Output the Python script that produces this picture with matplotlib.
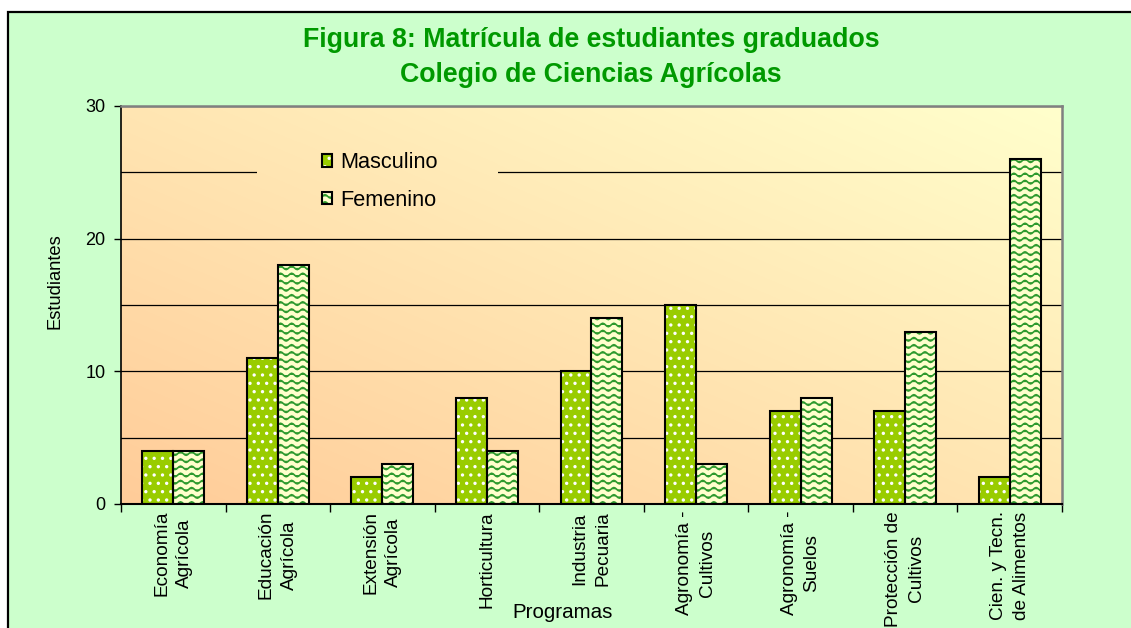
import numpy as np
import matplotlib
matplotlib.use("Agg")
import matplotlib.pyplot as plt
import matplotlib.hatch as mhatch
from matplotlib.path import Path
from matplotlib.patches import Rectangle
from matplotlib.legend_handler import HandlerTuple
from matplotlib.ticker import MultipleLocator

# ---------------- data ----------------
programas = ["Economía\nAgrícola", "Educación\nAgrícola", "Extensión\nAgrícola",
             "Horticultura", "Industria\nPecuaria", "Agronomía -\nCultivos",
             "Agronomía -\nSuelos", "Protección de\nCultivos",
             "Cien. y Tecn.\nde Alimentos"]
masculino = [4, 11, 2, 8, 10, 15, 7, 7, 2]
femenino = [4, 18, 3, 4, 14, 3, 8, 13, 26]
series_names = ["Masculino", "Femenino"]
titulo = "Figura 8: Matrícula de estudiantes graduados"
subtitulo = "Colegio de Ciencias Agrícolas"
ylabel = "Estudiantes"
xlabel = "Programas"
yticks = [0, 10, 20, 30]

# ---------------- custom wavy hatch ----------------
class WaveHatch(mhatch.HatchPatternBase):
    def __init__(self, hatch, density):
        self.num_lines = int(hatch.count('~') * 7)
        self.nper = 9
        self.pts = self.nper * 8 + 1
        self.num_vertices = self.num_lines * self.pts

    def set_vertices_and_codes(self, vertices, codes):
        if self.num_lines == 0:
            return
        xs = np.linspace(0, 1, self.pts)
        amp = 0.24 / self.num_lines
        for i in range(self.num_lines):
            y0 = (i + 0.5) / self.num_lines
            ys = y0 + amp * np.sin(2 * np.pi * self.nper * xs)
            s = slice(i * self.pts, (i + 1) * self.pts)
            vertices[s, 0] = xs
            vertices[s, 1] = ys
            codes[s] = Path.LINETO
            codes[i * self.pts] = Path.MOVETO

mhatch._hatch_types.append(WaveHatch)
mhatch._validate_hatch_pattern = lambda h: None

plt.rcParams['font.family'] = ['Liberation Sans', 'DejaVu Sans']
plt.rcParams['hatch.linewidth'] = 1.2

W, H = 1131, 628
fig = plt.figure(figsize=(W / 100, H / 100), dpi=100, facecolor='white')

# green chart-area frame
fig.add_artist(Rectangle((8 / W, -0.05), 1.2, (1 - 12 / H) + 0.05,
                         transform=fig.transFigure, facecolor='#CCFFCC',
                         edgecolor='black', lw=1.6, zorder=-5))

ax = fig.add_axes([121 / W, 1 - 504 / H, (1062 - 121) / W, (504 - 106) / H])
ax.patch.set_visible(False)

# gradient background
n = 200
gx, gy = np.meshgrid(np.linspace(0, 1, n), np.linspace(0, 1, n))
t = (gx + gy) / 2
c0 = np.array([1.0, 0.80, 0.60])
c1 = np.array([1.0, 1.0, 0.80])
img = c0[None, None, :] * (1 - t[..., None]) + c1[None, None, :] * t[..., None]
ax.imshow(img, extent=[0, 1, 0, 1], transform=ax.transAxes, origin='lower',
          aspect='auto', zorder=0, interpolation='bilinear')

# legend background (hides gridline like original legend box)
leg_bg = Rectangle((0.1445, 0.72), 0.256, 0.19, transform=ax.transAxes,
                   facecolor='none', edgecolor='none')
ax.add_patch(leg_bg)
im2 = ax.imshow(img, extent=[0, 1, 0, 1], transform=ax.transAxes, origin='lower',
                aspect='auto', zorder=0.8, interpolation='bilinear')
im2.set_clip_path(leg_bg)

x = np.arange(len(programas))
bw = 0.296

# Masculino bars
m_fill = ax.bar(x - bw / 2, masculino, bw, color='#99CC00', lw=0, zorder=2)
m_hat = ax.bar(x - bw / 2, masculino, bw, fill=False, edgecolor='white',
               hatch='..', lw=0, zorder=2.1)
m_out = ax.bar(x - bw / 2, masculino, bw, fill=False, edgecolor='black',
               lw=1.5, zorder=2.2)
# Femenino bars
f_fill = ax.bar(x + bw / 2, femenino, bw, color='#FFFFCC', lw=0, zorder=2)
f_hat = ax.bar(x + bw / 2, femenino, bw, fill=False, edgecolor='#2E9A2E',
               hatch='~~', lw=0, zorder=2.1)
f_out = ax.bar(x + bw / 2, femenino, bw, fill=False, edgecolor='black',
               lw=1.5, zorder=2.2)

ax.set_xlim(-0.5, len(programas) - 0.5)
ax.set_ylim(0, 30)

# y axis
ax.set_yticks(yticks)
ax.yaxis.set_minor_locator(MultipleLocator(5))
ax.tick_params(axis='y', which='major', length=5, direction='out', labelsize=13,
               pad=6, width=1)
ax.tick_params(axis='y', which='minor', length=0)
ax.set_axisbelow(True)
ax.grid(axis='y', which='both', color='black', lw=0.9, zorder=0.5)

# x axis
ax.set_xticks(np.arange(len(programas) + 1) - 0.5)
ax.set_xticklabels([])
ax.set_xticks(x, programas, minor=True, rotation=90, ha='center', va='top',
              multialignment='center', fontsize=13.7, linespacing=1.45)
ax.tick_params(axis='x', which='major', length=6, direction='out', width=1)
ax.tick_params(axis='x', which='minor', length=0, pad=5)

for s in ['top', 'right']:
    ax.spines[s].set_color('#808080')
    ax.spines[s].set_linewidth(1.8)
ax.spines['left'].set_color('black')
ax.spines['left'].set_linewidth(1.2)
ax.spines['bottom'].set_color('black')
ax.spines['bottom'].set_linewidth(1.5)
for s in ax.spines.values():
    s.set_zorder(3)

# legend
leg = ax.legend([(m_fill, m_hat, m_out), (f_fill, f_hat, f_out)], series_names,
                handler_map={tuple: HandlerTuple(ndivide=1, pad=0)},
                loc='center', bbox_to_anchor=(0.275, 0.810), frameon=False,
                fontsize=15.7, handlelength=0.5, handleheight=0.5,
                handletextpad=0.37, labelspacing=0.75)
leg.set_zorder(4)

# titles & labels
fig.text(591 / W, 1 - 40 / H, titulo, ha='center', va='center', fontsize=19.3,
         fontweight='bold', color='#009900')
fig.text(591 / W, 1 - 75 / H, subtitulo, ha='center', va='center', fontsize=19.3,
         fontweight='bold', color='#009900')
fig.text(55 / W, 1 - 281 / H, ylabel, rotation=90, ha='center', va='center',
         fontsize=13.2)
fig.text(563 / W, 1 - 613 / H, xlabel, ha='center', va='center', fontsize=14.8)

fig.savefig('out.png', dpi=100, facecolor='white')
